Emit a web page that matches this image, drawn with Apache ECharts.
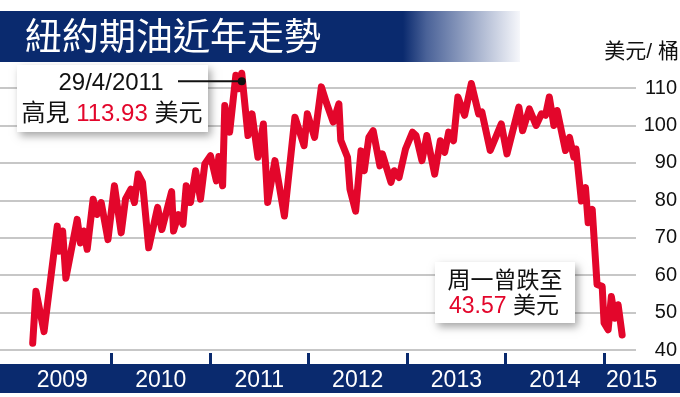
<!DOCTYPE html>
<html>
<head>
<meta charset="utf-8">
<script src="https://cdn.jsdelivr.net/npm/echarts@6/dist/echarts.min.js"></script>
<style>
  html, body { margin: 0; padding: 0; background: #fff; }
  #chart { width: 680px; height: 397px; }
</style>
</head>
<body>
<div id="chart"></div>
<script>
// 紐約期油 (美元/桶), 讀圖估值
var dates = [
  '2009-03-15','2009-03-27','2009-04-26','2009-06-14','2009-06-21','2009-07-04','2009-07-16','2009-08-27','2009-09-08','2009-09-20','2009-10-03','2009-10-25','2009-11-08','2009-11-24','2009-12-19',
  '2010-01-12','2010-02-06','2010-02-22','2010-03-14','2010-03-27','2010-04-10','2010-04-26','2010-05-19','2010-06-21','2010-07-07','2010-08-12','2010-08-19','2010-09-06','2010-09-23','2010-10-05','2010-10-21','2010-11-09','2010-11-27','2010-12-13',
  '2011-01-03','2011-01-25','2011-02-03','2011-02-17','2011-02-25','2011-03-15','2011-04-07','2011-04-17','2011-04-29','2011-05-22','2011-06-06','2011-06-28','2011-07-18','2011-08-03','2011-08-30','2011-10-04','2011-11-12','2011-12-16','2011-12-28',
  '2012-01-24','2012-02-18','2012-03-08','2012-04-02','2012-04-23','2012-04-30','2012-05-25','2012-06-03','2012-06-24','2012-07-14','2012-07-26','2012-08-12','2012-08-28','2012-09-22','2012-10-01','2012-11-02','2012-11-14','2012-12-02','2012-12-26',
  '2013-01-21','2013-02-03','2013-02-25','2013-03-15','2013-04-13','2013-05-04','2013-05-20','2013-06-04','2013-06-22','2013-07-08','2013-08-02','2013-08-27','2013-09-23','2013-10-05','2013-11-05','2013-12-16',
  '2014-01-06','2014-02-19','2014-03-05','2014-03-30','2014-04-24','2014-05-14','2014-05-29','2014-06-12','2014-06-29','2014-07-11','2014-08-11','2014-08-26','2014-09-11','2014-09-19','2014-10-09','2014-10-24','2014-11-03','2014-11-18','2014-12-06','2014-12-25',
  '2015-01-01','2015-01-16','2015-01-28','2015-02-10','2015-02-22','2015-03-09'
];
var prices = [
  41.8, 55.7, 44.9, 73.1, 66.4, 71.8, 59.2, 74.9, 68.6, 71.8, 66.9, 80.3, 76.2, 79.4, 69.5,
  83.9, 71.3, 80.3, 83.0, 79.4, 87.0, 84.8, 67.3, 78.1, 72.2, 82.3, 71.8, 76.2, 73.6, 83.9, 79.4, 87.9, 80.3, 89.7,
  91.9, 85.2, 91.7, 83.9, 105.3, 98.2, 113.4, 109.8, 113.93, 97.3, 103.1, 91.5, 100.4, 79.4, 90.6, 75.8, 102.2, 94.6, 103.1,
  96.8, 110.3, 106.0, 100.9, 105.8, 96.0, 91.5, 83.0, 77.1, 93.2, 87.9, 96.8, 98.6, 89.2, 92.4, 84.8, 87.9, 86.1, 93.7,
  98.2, 97.3, 90.6, 97.3, 87.0, 95.9, 92.8, 98.2, 95.9, 107.6, 102.7, 111.2, 103.1, 103.6, 93.3, 100.4,
  92.4, 104.9, 98.6, 104.4, 100.0, 103.1, 102.7, 107.6, 100.0, 104.0, 93.3, 96.8, 91.5, 93.7, 79.8, 83.4, 74.0, 77.6, 57.5, 57.0,
  47.2, 45.4, 54.3, 48.5, 52.1, 44.0
];
var years = [2009, 2010, 2011, 2012, 2013, 2014, 2015];
var yTicks = [40, 50, 60, 70, 80, 90, 100, 110];
var peakDate = '2011-04-29';
var peakValue = 113.93;

var NAVY = '#0a2a6e';
var RED = '#e3062b';
var FONT = '"Liberation Sans", "Noto Sans CJK TC", sans-serif';

var YEAR_MS = 365.25 * 864e5;
function yearStart(y) { return Date.UTC(y, 0, 1); }
function toMs(d) {
  var p = d.split('-');
  return Date.UTC(+p[0], +p[1] - 1, +p[2]);
}

// x 軸範圍: 左邊比 2009 年早一點, 右邊到 2015 年 4 月左右
var xMin = yearStart(2009) - 0.132 * YEAR_MS;
var xMax = yearStart(2015) + 0.324 * YEAR_MS;

var tickValues = years.slice(1).map(yearStart);
var labelValues = years.map(function (y) {
  return y === 2015 ? yearStart(2015) + 0.28 * YEAR_MS : yearStart(y) + 0.5 * YEAR_MS;
});

var chart = echarts.init(document.getElementById('chart'));

var option = {
  animation: false,
  backgroundColor: '#fff',
  grid: { left: 0, right: 43, top: 88, bottom: 47 },
  xAxis: {
    type: 'value',
    min: xMin,
    max: xMax,
    offset: 14,
    z: 10,
    axisLine: { show: false },
    axisTick: {
      show: true,
      inside: true,
      length: 11,
      customValues: tickValues,
      lineStyle: { color: NAVY, width: 3 }
    },
    axisLabel: {
      show: true,
      customValues: labelValues,
      margin: 5,
      color: '#fff',
      fontSize: 23,
      fontFamily: FONT,
      formatter: function (v) {
        return String(new Date(v).getUTCFullYear());
      }
    },
    splitLine: { show: false }
  },
  yAxis: {
    type: 'value',
    position: 'right',
    min: yTicks[0],
    max: yTicks[yTicks.length - 1],
    interval: 10,
    axisLine: { show: false },
    axisTick: { show: false },
    axisLabel: {
      align: 'right',
      margin: 41,
      color: '#111',
      fontSize: 20,
      fontFamily: FONT
    },
    splitLine: { lineStyle: { color: '#b4b4b4', width: 1.5 } }
  },
  series: [{
    type: 'line',
    data: dates.map(function (d, i) { return [toMs(d), prices[i]]; }),
    symbol: 'none',
    clip: false,
    z: 3,
    lineStyle: { color: RED, width: 7, cap: 'round', join: 'round' }
  }],
  graphic: [
    // 標題條
    {
      type: 'rect', z: 0,
      shape: { x: 0, y: 11, width: 520, height: 51 },
      style: {
        fill: {
          type: 'linear', x: 0, y: 0, x2: 1, y2: 0,
          colorStops: [
            { offset: 0, color: NAVY },
            { offset: 0.775, color: NAVY },
            { offset: 0.82, color: '#4a6298' },
            { offset: 1, color: '#f6f7fb' }
          ]
        }
      }
    },
    {
      type: 'text', z: 1, left: 25, top: 17,
      style: { text: '紐約期油近年走勢', fill: '#fff', font: '37px "Noto Sans CJK TC", sans-serif' }
    },
    {
      type: 'text', z: 1, right: 1, top: 42,
      style: { text: '美元/ 桶', fill: '#111', font: '21px ' + FONT }
    },
    // 底部年份條
    {
      type: 'rect', z: 0,
      shape: { x: 0, y: 364, width: 680, height: 29 },
      style: { fill: NAVY }
    },
    // 高位註解
    {
      type: 'rect', z: 50,
      shape: { x: 17, y: 65, width: 191, height: 67 },
      style: {
        fill: '#fff',
        shadowBlur: 8, shadowColor: 'rgba(0,0,0,0.35)', shadowOffsetX: 3, shadowOffsetY: 4
      }
    },
    {
      type: 'text', z: 51, x: 111, y: 83,
      style: {
        text: '29/4/2011', fill: '#111', font: '24px ' + FONT,
        align: 'center', verticalAlign: 'middle'
      }
    },
    {
      type: 'text', z: 51, x: 112, y: 114,
      style: {
        text: '{b|高見 }{r|113.93}{b| 美元}',
        align: 'center', verticalAlign: 'middle',
        rich: {
          b: { fill: '#111', fontSize: 24, fontFamily: FONT },
          r: { fill: RED, fontSize: 24, fontFamily: FONT }
        }
      }
    },
    // 低位註解
    {
      type: 'rect', z: 50,
      shape: { x: 435, y: 262, width: 140, height: 61 },
      style: {
        fill: '#fff',
        shadowBlur: 8, shadowColor: 'rgba(0,0,0,0.35)', shadowOffsetX: 3, shadowOffsetY: 4
      }
    },
    {
      type: 'text', z: 51, x: 505, y: 282,
      style: {
        text: '周一曾跌至', fill: '#111', font: '23px ' + FONT,
        align: 'center', verticalAlign: 'middle'
      }
    },
    {
      type: 'text', z: 51, x: 504, y: 307,
      style: {
        text: '{r|43.57}{b| 美元}',
        align: 'center', verticalAlign: 'middle',
        rich: {
          b: { fill: '#111', fontSize: 23, fontFamily: FONT },
          r: { fill: RED, fontSize: 23, fontFamily: FONT }
        }
      }
    }
  ]
};

chart.setOption(option);

// 引線和圓點接到高位那一點
var p = chart.convertToPixel({ seriesIndex: 0 }, [toMs(peakDate), peakValue]);
chart.setOption({
  graphic: option.graphic.concat([
    {
      type: 'line', z: 52,
      shape: { x1: 178, y1: p[1] + 8, x2: p[0], y2: p[1] + 8 },
      style: { stroke: '#111', lineWidth: 2 }
    },
    {
      type: 'circle', z: 52,
      shape: { cx: p[0], cy: p[1] + 8, r: 4 },
      style: { fill: '#111' }
    }
  ])
});
</script>
</body>
</html>
